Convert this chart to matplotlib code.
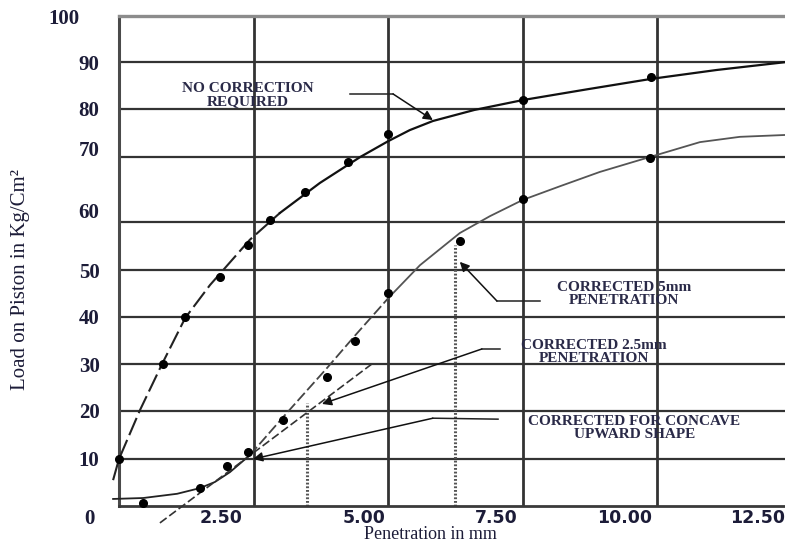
import numpy as np
import matplotlib
matplotlib.use("Agg")
import matplotlib.pyplot as plt
from matplotlib.transforms import ScaledTranslation

# ---------------- data ----------------
y_ticks = [0, 10, 20, 30, 40, 50, 60, 70, 80, 90, 100]
y_tick_labels = ["0", "10", "20", "30", "40", "50", "60", "70", "80", "90", "100"]
x_ticks = [0, 2.5, 5.0, 7.5, 10.0, 12.5]
x_tick_labels = ["", "2.50", "5.00", "7.50", "10.00", "12.50"]

# curve "no correction required"
nc_curve_x = [-0.11, 0.0, 0.39, 0.80, 1.23, 1.69, 2.43, 2.99, 3.73, 4.48, 5.00, 5.40, 5.83, 6.60, 7.50, 8.70, 9.88, 11.10, 12.40]
nc_curve_y = [5.5, 10.0, 20.2, 30.0, 39.8, 46.8, 56.3, 61.4, 66.0, 70.0, 73.3, 75.6, 77.5, 79.8, 81.9, 84.2, 86.4, 88.3, 90.0]
nc_pts_x = [0.0, 0.82, 1.23, 1.88, 2.40, 2.80, 3.45, 4.25, 5.00, 7.50, 9.88]
nc_pts_y = [10.0, 30.0, 40.0, 48.5, 55.2, 60.3, 64.6, 69.2, 74.8, 81.9, 86.8]

# concave-upward test curve
cu_curve_x = [-0.11, 0.45, 1.08, 1.50, 1.78, 2.06, 2.43, 3.05, 3.86, 4.38, 5.00,
              5.59, 6.33, 6.89, 7.50, 8.19, 8.93, 9.86, 10.79, 11.53, 12.40]
cu_curve_y = [1.5, 1.7, 2.6, 3.8, 5.1, 7.2, 10.8, 18.75, 29.1, 36.0, 44.0,
              51.0, 57.7, 60.9, 63.4, 65.5, 67.7, 70.0, 73.1, 74.2, 74.6]
cu_pts_x = [0.45, 1.50, 2.00, 2.40, 3.05, 3.86, 4.38, 5.00, 6.33, 7.50, 9.86]
cu_pts_y = [0.6, 3.8, 8.5, 11.5, 18.1, 27.2, 34.9, 45.1, 56.0, 63.5, 69.8]

# tangent line
tan_x = [0.76, 4.72]
tan_y = [-3.6, 30.2]

# dotted verticals (corrected penetrations)
dot_v_x = [3.49, 6.24]
dot_v_top = [21.6, 55.2]

# annotations: text, text pos, knee end, knee start, arrow tip
ann_texts = ["NO CORRECTION\nREQUIRED", "CORRECTED 5mm\nPENETRATION",
             "CORRECTED 2.5mm\nPENETRATION", "CORRECTED FOR CONCAVE\nUPWARD SHAPE"]
ann_text_xy = [(2.40, 83.0), (9.38, 44.9), (8.82, 32.6), (9.57, 16.5)]
ann_knee_a = [(4.29, 83.2), (7.82, 43.4), (7.08, 33.2), (7.04, 18.3)]
ann_knee_b = [(5.09, 83.2), (7.02, 43.4), (6.74, 33.2), (5.83, 18.5)]
ann_tip = [(5.83, 77.7), (6.33, 51.7), (3.77, 21.5), (2.49, 10.0)]

# ---------------- non-uniform y grid of the original figure ----------------
_Y_POS = np.array([0, 47, 95, 142, 189, 236, 284, 349, 397, 444, 490], float)
_Y_VAL = np.array(y_ticks, float)


def _fwd(v):
    v = np.asarray(v, float)
    out = np.interp(v, _Y_VAL, _Y_POS)
    out = np.where(v < 0, v * 4.7, out)
    out = np.where(v > 100, 490 + (v - 100) * 4.6, out)
    return out


def _inv(p):
    p = np.asarray(p, float)
    out = np.interp(p, _Y_POS, _Y_VAL)
    out = np.where(p < 0, p / 4.7, out)
    out = np.where(p > 490, 100 + (p - 490) / 4.6, out)
    return out


W, H = 785, 544
fig = plt.figure(figsize=(W / 100, H / 100), dpi=100)
ax = fig.add_axes([119 / W, 38 / H, 673 / W, 490 / H])
ax.set_yscale("function", functions=(_fwd, _inv))
ax.set_xlim(0, 12.5)
ax.set_ylim(0, 100)

# grid
for v in y_ticks[1:-1]:
    ax.axhline(v, color="#333333", lw=1.6, zorder=1)
for v in x_ticks[1:-1]:
    ax.axvline(v, color="#333333", lw=2.0, zorder=1)

ax.spines["right"].set_visible(False)
ax.spines["top"].set_color("#8c8c8c")
ax.spines["top"].set_linewidth(2.4)
ax.spines["left"].set_color("#4a4a4a")
ax.spines["left"].set_linewidth(2.2)
ax.spines["bottom"].set_color("#3a3a3a")
ax.spines["bottom"].set_linewidth(2.0)

ink = "#1c1c38"
ax.set_yticks(y_ticks)
ax.set_yticklabels(y_tick_labels, family="Liberation Serif", fontweight="bold",
                   fontsize=15, color=ink)
ax.set_xticks(x_ticks)
ax.set_xticklabels(x_tick_labels, family="DejaVu Sans", fontweight="bold",
                   fontsize=12.5, color=ink, ha="right")
ax.tick_params(axis="both", length=0)
ax.tick_params(axis="y", pad=14)
ax.tick_params(axis="x", pad=2)

# per-label nudges like the scanned original (pixels)
y_nudge = {"0": (-5, -11), "60": (0, 11), "70": (0, 9), "100": (-20, 0)}
for lab in ax.get_yticklabels():
    dx, dy = y_nudge.get(lab.get_text(), (0, 0))
    lab.set_transform(lab.get_transform() + ScaledTranslation(dx / 100, dy / 100, fig.dpi_scale_trans))
x_nudge = {"2.50": -11, "5.00": -3, "7.50": -5, "10.00": -5, "12.50": -7}
for lab in ax.get_xticklabels():
    dx = x_nudge.get(lab.get_text(), 0)
    lab.set_transform(lab.get_transform() + ScaledTranslation(dx / 100, 0, fig.dpi_scale_trans))

# axis titles
fig.text(430 / W, 1 / H, "Penetration in mm", family="Liberation Serif",
         fontsize=13, color=ink, ha="center", va="bottom")
fig.text(21 / W, 1 - 280 / H, "Load on Piston in Kg/Cm\u00b2", family="Liberation Serif",
         fontsize=15, color=ink, ha="center", va="center", rotation=90)

# ---------------- curves ----------------
ncx, ncy = np.array(nc_curve_x), np.array(nc_curve_y)
k = 8  # split index dashed/solid
ax.plot(ncx[:k], ncy[:k], color="#222222", lw=1.5, dashes=(9, 2.5), clip_on=False, zorder=3)
ax.plot(ncx[k - 1:], ncy[k - 1:], color="#111111", lw=1.6, clip_on=False, zorder=3)

cux, cuy = np.array(cu_curve_x), np.array(cu_curve_y)
ax.plot(cux[:7], cuy[:7], color="#222222", lw=1.3, clip_on=False, zorder=3)
ax.plot(cux[6:11], cuy[6:11], color="#444444", lw=1.3, dashes=(6, 2), clip_on=False, zorder=3)
ax.plot(cux[10:], cuy[10:], color="#555555", lw=1.3, clip_on=False, zorder=3)

ax.plot(tan_x, tan_y, color="#333333", lw=1.2, dashes=(5, 2), clip_on=False, zorder=3)

for xv, top in zip(dot_v_x, dot_v_top):
    ax.plot([xv, xv], [0, top], color="#555555", lw=2.2, dashes=(0.6, 0.6), zorder=2)

ax.plot(nc_pts_x, nc_pts_y, "o", color="black", ms=5.5, clip_on=False, zorder=4)
ax.plot(cu_pts_x, cu_pts_y, "o", color="black", ms=5.5, clip_on=False, zorder=4)

# ---------------- annotations ----------------
for txt, txy, ka, kb, tip in zip(ann_texts, ann_text_xy, ann_knee_a, ann_knee_b, ann_tip):
    ax.text(txy[0], txy[1], txt, family="Liberation Serif", fontweight="bold",
            fontsize=11, color="#2a2a48", ha="center", va="center", linespacing=0.95, zorder=5)
    ax.plot([ka[0], kb[0]], [ka[1], kb[1]], color="#222222", lw=1.1, zorder=4)
    ax.annotate("", xy=tip, xytext=kb,
                arrowprops=dict(arrowstyle="-|>", color="#111111", lw=1.1,
                                mutation_scale=14, shrinkA=0, shrinkB=0), zorder=5)

fig.savefig("out.png", dpi=100)
